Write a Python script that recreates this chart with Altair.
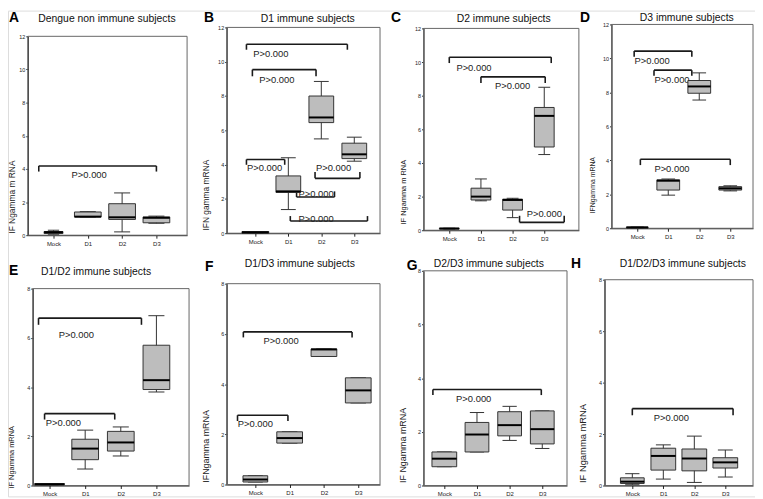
import altair as alt
import pandas as pd

# ---------------- data ----------------
categories = ["Mock", "D1", "D2", "D3"]
p_text = "P>0.000"

panel_letters = ["A", "B", "C", "D", "E", "F", "G", "H"]
panel_titles = ["Dengue non  immune subjects", "D1 immune subjects", "D2 immune subjects",
                "D3 immune subjects", "D1/D2 immune subjects", "D1/D3 immune subjects",
                "D2/D3 immune subjects", "D1/D2/D3 immune subjects"]
y_titles = ["IF Ngamma m RNA", "IFN gamma mRNA", "IF Ngamma m RNA", "IFNgamma mRNA",
            "IF Ngamma mRNA", "IFNgamma mRNA", "IF Ngamma mRNA", "IF Ngamma mRNA"]
y_max = [12, 12, 12, 12, 8, 8, 8, 8]

# box statistics per category (Mock, D1, D2, D3)
A_lo = [0.06, 1.10, 0.20, 0.72]
A_q1 = [0.10, 1.10, 0.95, 0.75]
A_med = [0.18, 1.12, 1.08, 1.05]
A_q3 = [0.22, 1.40, 1.90, 1.10]
A_hi = [0.30, 1.42, 2.55, 1.15]

B_lo = [0.00, 1.38, 5.50, 4.20]
B_q1 = [0.00, 2.38, 6.45, 4.35]
B_med = [0.05, 2.44, 6.75, 4.60]
B_q3 = [0.10, 3.34, 8.00, 5.25]
B_hi = [0.10, 4.40, 8.85, 5.60]

C_lo = [0.08, 1.75, 0.75, 4.50]
C_q1 = [0.08, 1.80, 1.20, 4.95]
C_med = [0.10, 2.00, 1.80, 6.80]
C_q3 = [0.12, 2.50, 1.85, 7.30]
C_hi = [0.12, 3.05, 1.90, 8.50]

D_lo = [0.03, 1.95, 7.55, 2.20]
D_q1 = [0.03, 2.25, 7.95, 2.25]
D_med = [0.05, 2.80, 8.35, 2.35]
D_q3 = [0.07, 2.85, 8.70, 2.45]
D_hi = [0.07, 2.90, 9.15, 2.50]

E_lo = [0.03, 0.67, 1.20, 3.80]
E_q1 = [0.03, 1.05, 1.40, 3.90]
E_med = [0.05, 1.50, 1.75, 4.28]
E_q3 = [0.08, 1.88, 2.20, 5.70]
E_hi = [0.08, 2.25, 2.38, 6.90]

F_lo = [0.10, 1.65, 5.10, 3.25]
F_q1 = [0.10, 1.65, 5.10, 3.25]
F_med = [0.20, 1.85, 5.38, 3.75]
F_q3 = [0.35, 2.10, 5.40, 4.25]
F_hi = [0.35, 2.10, 5.40, 4.25]

G_lo = [0.70, 1.25, 1.68, 1.38]
G_q1 = [0.70, 1.25, 1.85, 1.55]
G_med = [1.00, 1.90, 2.25, 2.10]
G_q3 = [1.25, 2.35, 2.75, 2.78]
G_hi = [1.25, 2.72, 2.95, 2.78]

H_lo = [0.03, 0.25, 0.12, 0.33]
H_q1 = [0.08, 0.60, 0.57, 0.68]
H_med = [0.15, 1.15, 1.05, 0.90]
H_q3 = [0.30, 1.45, 1.42, 1.08]
H_hi = [0.46, 1.58, 1.92, 1.38]

# significance brackets: (x start, x end, bar level, tip level, label x, label y)
A_brackets = [(0.57, 4.00, 4.18, 3.84, 2.04, 3.64)]
B_brackets = [(0.73, 3.79, 11.02, 10.70, 1.47, 10.46),
              (0.91, 2.84, 9.54, 9.15, 1.65, 8.96),
              (0.73, 1.89, 4.30, 3.99, 1.28, 3.78),
              (2.81, 4.17, 3.20, 3.57, 3.37, 3.78),
              (2.25, 3.40, 2.11, 2.44, 2.84, 2.26),
              (2.06, 4.40, 0.71, 1.00, 2.84, 0.84)]
C_brackets = [(1.00, 4.22, 10.29, 9.94, 1.78, 9.65),
              (2.00, 4.03, 9.12, 8.76, 3.00, 8.57),
              (3.22, 4.63, 0.47, 0.86, 4.00, 0.98)]
D_brackets = [(0.90, 2.76, 10.43, 10.10, 1.48, 9.85),
              (1.54, 2.76, 9.31, 8.98, 2.12, 8.75),
              (1.10, 4.00, 4.06, 3.72, 2.12, 3.48)]
E_brackets = [(0.69, 3.58, 6.80, 6.53, 1.75, 6.10),
              (0.86, 2.83, 2.92, 2.68, 1.39, 2.52)]
F_brackets = [(0.65, 3.82, 6.08, 5.86, 1.75, 5.71),
              (0.48, 1.95, 2.76, 2.53, 1.00, 2.39)]
G_brackets = [(0.65, 3.97, 3.58, 3.37, 1.90, 3.21)]
H_brackets = [(1.00, 4.25, 2.99, 2.73, 2.26, 2.61)]

stats = [
    (A_lo, A_q1, A_med, A_q3, A_hi, A_brackets),
    (B_lo, B_q1, B_med, B_q3, B_hi, B_brackets),
    (C_lo, C_q1, C_med, C_q3, C_hi, C_brackets),
    (D_lo, D_q1, D_med, D_q3, D_hi, D_brackets),
    (E_lo, E_q1, E_med, E_q3, E_hi, E_brackets),
    (F_lo, F_q1, F_med, F_q3, F_hi, F_brackets),
    (G_lo, G_q1, G_med, G_q3, G_hi, G_brackets),
    (H_lo, H_q1, H_med, H_q3, H_hi, H_brackets),
]

# ---------------- layout (pixels inside the canvas) ----------------
W, H = 755, 491
FONT = "Liberation Sans"
layout = [
    dict(left=20, right=181, top=26, bottom=227, c1=46, c4=150, box=27, mock=19,
         tx=100, ty=11.5, lx=1, ly=11.3, ytx=-11, yty=188, yfs=8.5),
    dict(left=221, right=376, top=17, bottom=225, c1=250, c4=350, box=25, mock=27,
         tx=303, ty=11.5, lx=198, ly=11.3, ytx=-16, yty=186, yfs=8.5),
    dict(left=420, right=577, top=18, bottom=222, c1=446, c4=542, box=20, mock=20,
         tx=501, ty=11.5, lx=387, ly=11.3, ytx=-16, yty=183, yfs=7.5),
    dict(left=610, right=753, top=14, bottom=220, c1=636, c4=730, box=23, mock=22,
         tx=686, ty=10.5, lx=578, ly=11.3, ytx=-16, yty=176, yfs=7),
    dict(left=25, right=183, top=281, bottom=480, c1=42, c4=150, box=27, mock=30,
         tx=89, ty=266.8, lx=1, ly=267, ytx=-17, yty=451, yfs=7.5),
    dict(left=221, right=376, top=276, bottom=479, c1=250, c4=354, box=26, mock=25,
         tx=295, ty=259.5, lx=199, ly=263, ytx=-16, yty=440, yfs=9),
    dict(left=420, right=565, top=263, bottom=480, c1=441, c4=540, box=24, mock=25,
         tx=486, ty=259.5, lx=403, ly=262, ytx=-16, yty=439, yfs=9),
    dict(left=603, right=753, top=272, bottom=480, c1=631, c4=725, box=25, mock=24,
         tx=682, ty=259.5, lx=569, ly=260.3, ytx=-17, yty=437, yfs=9.5),
]

label_expr = "[" + ",".join("'%s'" % c for c in categories) + "][datum.value - 1]"


def make_panel(i):
    lo, q1, med, q3, hi, brackets = stats[i]
    L = layout[i]
    s = (L["c4"] - L["c1"]) / 3.0
    dmin = 1 - (L["c1"] - L["left"]) / s
    dmax = 4 + (L["right"] - L["c4"]) / s
    ymax = y_max[i]

    def xs():
        return alt.Scale(domain=[dmin, dmax], range=[L["left"], L["right"]], nice=False, zero=False)

    def ys():
        return alt.Scale(domain=[0, ymax], range=[L["bottom"], L["top"]], nice=False, zero=False)

    xaxis = alt.Axis(values=[1, 2, 3, 4], labelExpr=label_expr, orient="bottom",
                     offset=L["bottom"] - H, title="", grid=False, tickSize=3,
                     tickColor="#222", domainColor="#111", domainWidth=1,
                     labelFontSize=6, labelPadding=2, labelFlush=False,
                     labelColor="#222", labelFont=FONT)
    yaxis = alt.Axis(values=list(range(0, ymax + 1, 2)), orient="left", offset=-L["left"],
                     title=y_titles[i], titleX=L["ytx"], titleY=L["yty"], titleAngle=270,
                     titleAlign="center", titleBaseline="bottom", titleFontSize=L["yfs"],
                     titleFontWeight="normal", titleColor="#222", titleFont=FONT,
                     grid=False, tickSize=2, tickColor="#222", domainColor="#111",
                     domainWidth=1, labelFontSize=5.5, labelPadding=1, labelColor="#222",
                     labelFont=FONT)

    pos = [1, 2, 3, 4]
    widths = [L["mock"], L["box"], L["box"], L["box"]]
    hw = [w / 2.0 / s for w in widths]
    cw = [h * 0.6 for h in hw]
    box_df = pd.DataFrame({
        "cat": categories, "pos": pos, "lo": lo, "q1": q1, "med": med, "q3": q3, "hi": hi,
        "xl": [p - h for p, h in zip(pos, hw)], "xr": [p + h for p, h in zip(pos, hw)],
    })
    cap_df = pd.DataFrame({
        "cl": [p - c for p, c in zip(pos, cw)] * 2,
        "cr": [p + c for p, c in zip(pos, cw)] * 2,
        "cy": list(lo) + list(hi),
    })
    frame_df = pd.DataFrame({"x1": [dmin], "x2": [dmax], "y1": [0], "y2": [ymax]})

    seg_rows = []
    lab_rows = []
    for (bx1, bx2, by, tip, lxv, lyv) in brackets:
        seg_rows.append(dict(sx1=bx1, sx2=bx2, sy1=by, sy2=by))
        seg_rows.append(dict(sx1=bx1, sx2=bx1, sy1=by, sy2=tip))
        seg_rows.append(dict(sx1=bx2, sx2=bx2, sy1=by, sy2=tip))
        lab_rows.append(dict(lx=lxv, ly=lyv, t=p_text))
    seg_df = pd.DataFrame(seg_rows)
    lab_df = pd.DataFrame(lab_rows)

    frame = alt.Chart(frame_df).mark_rect(fillOpacity=0, stroke="#666", strokeWidth=1).encode(
        x=alt.X("x1:Q", scale=xs(), axis=None), x2="x2:Q",
        y=alt.Y("y1:Q", scale=ys(), axis=None), y2="y2:Q")
    axes = alt.Chart(frame_df).mark_point(opacity=0).encode(
        x=alt.X("x1:Q", scale=xs(), axis=xaxis),
        y=alt.Y("y1:Q", scale=ys(), axis=yaxis))
    segs = alt.Chart(seg_df).mark_rule(color="#1a1a1a", strokeWidth=1.6).encode(
        x=alt.X("sx1:Q", scale=xs(), axis=None), x2="sx2:Q",
        y=alt.Y("sy1:Q", scale=ys(), axis=None), y2="sy2:Q")
    labs = alt.Chart(lab_df).mark_text(font=FONT, fontSize=9.5, color="#222",
                                       align="center", baseline="middle").encode(
        x=alt.X("lx:Q", scale=xs(), axis=None), y=alt.Y("ly:Q", scale=ys(), axis=None), text="t:N")
    whisk = alt.Chart(box_df).mark_rule(color="#333", strokeWidth=1).encode(
        x=alt.X("pos:Q", scale=xs(), axis=None), y=alt.Y("lo:Q", scale=ys(), axis=None), y2="hi:Q")
    caps = alt.Chart(cap_df).mark_rule(color="#333", strokeWidth=1).encode(
        x=alt.X("cl:Q", scale=xs(), axis=None), x2="cr:Q", y=alt.Y("cy:Q", scale=ys(), axis=None))
    boxes = alt.Chart(box_df).mark_rect(fill="#bdbdbd", stroke="#333", strokeWidth=1).encode(
        x=alt.X("xl:Q", scale=xs(), axis=None), x2="xr:Q",
        y=alt.Y("q1:Q", scale=ys(), axis=None), y2="q3:Q")
    meds = alt.Chart(box_df).mark_rule(color="#000", strokeWidth=2).encode(
        x=alt.X("xl:Q", scale=xs(), axis=None), x2="xr:Q", y=alt.Y("med:Q", scale=ys(), axis=None))
    title = alt.Chart(pd.DataFrame({"t": [panel_titles[i]]})).mark_text(
        font=FONT, fontSize=10.5, color="#111", align="center", baseline="alphabetic").encode(
        x=alt.value(L["tx"]), y=alt.value(L["ty"]), text="t:N")
    letter = alt.Chart(pd.DataFrame({"t": [panel_letters[i]]})).mark_text(
        font=FONT, fontSize=14, fontWeight="bold", color="#000", align="left",
        baseline="alphabetic").encode(x=alt.value(L["lx"]), y=alt.value(L["ly"]), text="t:N")
    return [frame, segs, labs, whisk, caps, boxes, meds, axes, title, letter]


layers = []
for i in range(8):
    layers.extend(make_panel(i))

chart = alt.layer(*layers).resolve_scale(x="independent", y="independent").properties(
    width=W, height=H, padding=0, autosize=alt.AutoSizeParams(type="none")
).configure_view(stroke=None).configure(font=FONT, background="white")

chart.save("out.html", embed_options={"renderer": "svg", "actions": False})
